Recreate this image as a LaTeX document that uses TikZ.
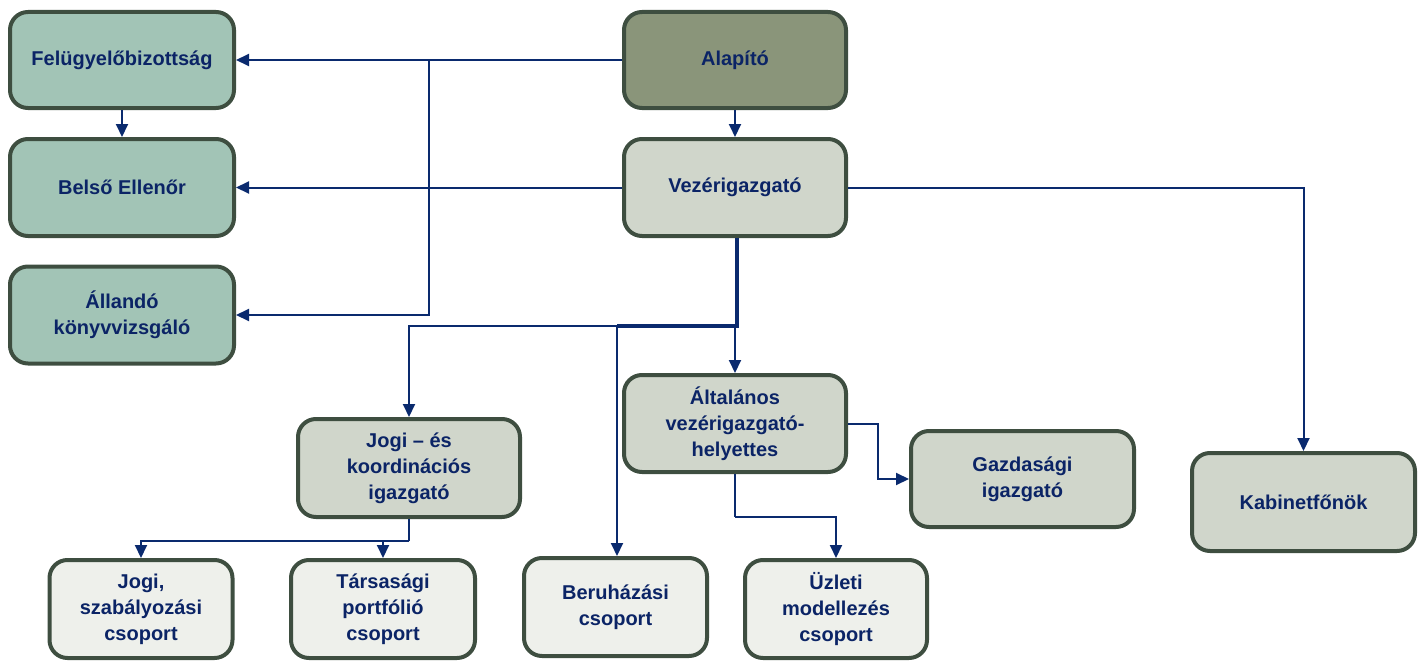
\documentclass[tikz,border=0pt]{standalone}
\usepackage{fontspec}
\setmainfont{Liberation Sans}
\usetikzlibrary{arrows.meta,calc}
\definecolor{txt}{HTML}{0B2466}
\definecolor{ln}{HTML}{0A2A6E}
\definecolor{bd}{HTML}{3E4E40}
\definecolor{teal}{HTML}{A2C4B6}
\definecolor{olive}{HTML}{8A957A}
\definecolor{midg}{HTML}{D0D6CB}
\definecolor{lite}{HTML}{EEF0EB}
\tikzset{
  box/.style={draw=bd, line width=4pt, rounded corners=18pt, align=center,
    text=txt, font=\fontsize{20}{26}\selectfont\bfseries, inner sep=2pt},
  tbox/.style={box, fill=teal},
  obox/.style={box, fill=olive},
  gbox/.style={box, fill=midg},
  lbox/.style={box, fill=lite},
  conn/.style={draw=ln, line width=2pt, -{Triangle[length=13pt,width=12pt]}},
  plain/.style={draw=ln, line width=2pt},
  trunk/.style={draw=ln, line width=3.5pt},
}
\begin{document}
\begin{tikzpicture}[x=1pt,y=-1pt]
\useasboundingbox (0,0) rectangle (1427,661);
\node[tbox, minimum width=224pt, minimum height=96pt] (fb) at (122,60) {Felügyelőbizottság};
\node[tbox, minimum width=224pt, minimum height=97pt] (be) at (122,187.5) {Belső Ellenőr};
\node[tbox, minimum width=224pt, minimum height=97pt] (ak) at (122,315) {Állandó\\könyvvizsgáló};
\node[obox, minimum width=222pt, minimum height=96pt] (al) at (735,60) {Alapító};
\node[gbox, minimum width=222pt, minimum height=97pt] (vez) at (735,187.5) {Vezérigazgató};
\node[gbox, minimum width=222pt, minimum height=97pt] (alt) at (735,423.5) {Általános\\vezérigazgató-\\helyettes};
\node[gbox, minimum width=222pt, minimum height=98pt] (jk) at (409,468) {Jogi – és\\koordinációs\\igazgató};
\node[gbox, minimum width=223pt, minimum height=96pt] (gi) at (1022.5,479) {Gazdasági\\igazgató};
\node[gbox, minimum width=223pt, minimum height=98pt] (kab) at (1303.5,502) {Kabinetfőnök};
\node[lbox, minimum width=183pt, minimum height=98pt] (jsz) at (141,609) {Jogi,\\szabályozási\\csoport};
\node[lbox, minimum width=184pt, minimum height=98pt] (tp) at (383,609) {Társasági\\portfólió\\csoport};
\node[lbox, minimum width=183pt, minimum height=98pt] (ber) at (615.5,607) {Beruházási\\csoport};
\node[lbox, minimum width=182pt, minimum height=98pt] (uzl) at (836,609) {Üzleti\\modellezés\\csoport};

\coordinate (b1) at (429,60);
\coordinate (j1) at (737,326);
\coordinate (j2) at (617,326);
\coordinate (j3) at (409,541);
\coordinate (k1) at (735,517);
\coordinate (g1) at (878,423.5);

\draw[conn] (al.west) -- (fb.east);
\draw[conn] (b1) |- (ak.east);
\draw[conn] (vez.west) -- (be.east);
\draw[conn] (fb.south) -- (be.north);
\draw[conn] (al.south) -- (vez.north);
\draw[conn] (vez.east) -| (kab.north);
\draw[trunk] ($(vez.south)+(2,0)$) -- (j1) -- (j2);
\draw[conn] (j1) -| (jk.north);
\draw[conn] (j2) -- (j2 |- ber.north);
\draw[conn] (j1 -| alt.north) -- (alt.north);
\draw[conn] (alt.east) -- (g1) |- (gi.west);
\draw[plain] (alt.south) -- (k1);
\draw[conn] (k1) -| (uzl.north);
\draw[plain] (jk.south) -- (j3);
\draw[conn] (j3) -| (jsz.north);
\draw[conn] (j3) -| (tp.north);
\end{tikzpicture}
\end{document}
